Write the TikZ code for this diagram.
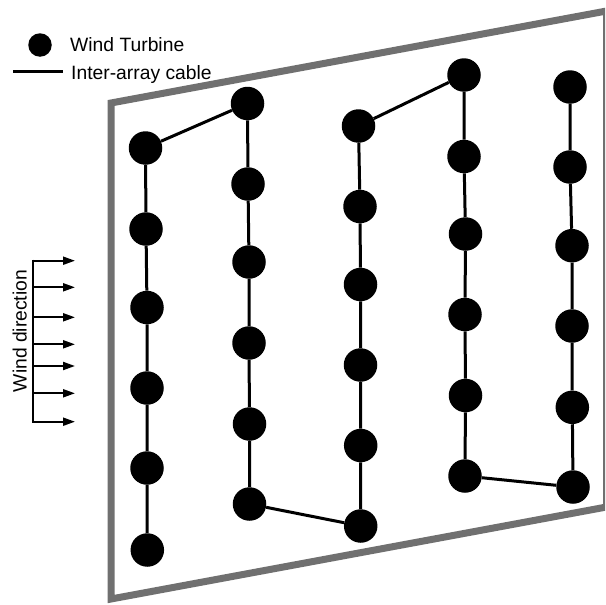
\documentclass[tikz,border=0pt]{standalone}
\usepackage{fontspec}
\setmainfont{Liberation Sans}
\usetikzlibrary{arrows.meta}
\definecolor{framegray}{RGB}{112,112,112}
\begin{document}
\begin{tikzpicture}[x=1pt,y=-1pt,
  turbine/.style={circle,fill=black,inner sep=0pt,minimum size=33.5pt},
  legturbine/.style={circle,fill=black,inner sep=0pt,minimum size=23.5pt},
  cable/.style={line width=3pt},
  frameline/.style={line width=7pt,draw=framegray,line join=miter},
  windarrow/.style={line width=2pt,-{Triangle[length=12pt,width=8pt]}},
  windstem/.style={line width=2pt},
  lbl/.style={font=\fontsize{19.3}{22}\selectfont,inner sep=0pt}]
\useasboundingbox (0,0) rectangle (605,605);
\clip (0,0) rectangle (605,605);

% frame
\draw[frameline] (111,103) -- (606.5,11) -- (606.5,507) -- (111,599) -- cycle;

% turbines
\node[turbine] (a1) at (145.5,148) {};
\node[turbine] (a2) at (146,229) {};
\node[turbine] (a3) at (147,307.5) {};
\node[turbine] (a4) at (147,388) {};
\node[turbine] (a5) at (147,468) {};
\node[turbine] (a6) at (147.3,550) {};

\node[turbine] (b1) at (247.5,103.5) {};
\node[turbine] (b2) at (248,184) {};
\node[turbine] (b3) at (249,262) {};
\node[turbine] (b4) at (249,343) {};
\node[turbine] (b5) at (249.5,424) {};
\node[turbine] (b6) at (249.5,504) {};

\node[turbine] (c1) at (358.5,126) {};
\node[turbine] (c2) at (360,206.5) {};
\node[turbine] (c3) at (360.5,284.5) {};
\node[turbine] (c4) at (360.5,365) {};
\node[turbine] (c5) at (360.7,445.5) {};
\node[turbine] (c6) at (360.7,526) {};

\node[turbine] (d1) at (464,75) {};
\node[turbine] (d2) at (464,156.5) {};
\node[turbine] (d3) at (465.5,234) {};
\node[turbine] (d4) at (465,314.5) {};
\node[turbine] (d5) at (465.5,395.5) {};
\node[turbine] (d6) at (465,476) {};

\node[turbine] (e1) at (570,87) {};
\node[turbine] (e2) at (570,167) {};
\node[turbine] (e3) at (572,245.7) {};
\node[turbine] (e4) at (572,326) {};
\node[turbine] (e5) at (572.3,407.3) {};
\node[turbine] (e6) at (573,487) {};

% cables
\draw[cable] (a6) -- (a5) -- (a4) -- (a3) -- (a2) -- (a1) -- (b1)
  -- (b2) -- (b3) -- (b4) -- (b5) -- (b6) -- (c6)
  -- (c5) -- (c4) -- (c3) -- (c2) -- (c1) -- (d1)
  -- (d2) -- (d3) -- (d4) -- (d5) -- (d6) -- (e6)
  -- (e5) -- (e4) -- (e3) -- (e2) -- (e1);

% legend
\node[legturbine] (lt) at (40,45) {};
\node[lbl,anchor=base west] (ltxt) at (70,51.7) {Wind Turbine};
\coordinate (lc1) at (13,71);
\coordinate (lc2) at (63,71);
\draw[cable] (lc1) -- (lc2);
\node[lbl,anchor=base west] (lctxt) at (71,79) {Inter-array cable};

% wind direction
\coordinate (wtop) at (33.3,260.7);
\coordinate (wbot) at (33.3,421.7);
\draw[windstem] ([yshift=1pt]wtop) -- ([yshift=-1pt]wbot);
\foreach \y [count=\i] in {260.7,287.3,317.3,344.3,366,393.3,421.7} {
  \coordinate (ws\i) at (33.3,\y);
  \coordinate (we\i) at (75,\y);
  \draw[windarrow] (ws\i) -- (we\i);
}
\node[lbl,anchor=base,rotate=90] (wlbl) at (26.7,331) {Wind direction};
\end{tikzpicture}
\end{document}
